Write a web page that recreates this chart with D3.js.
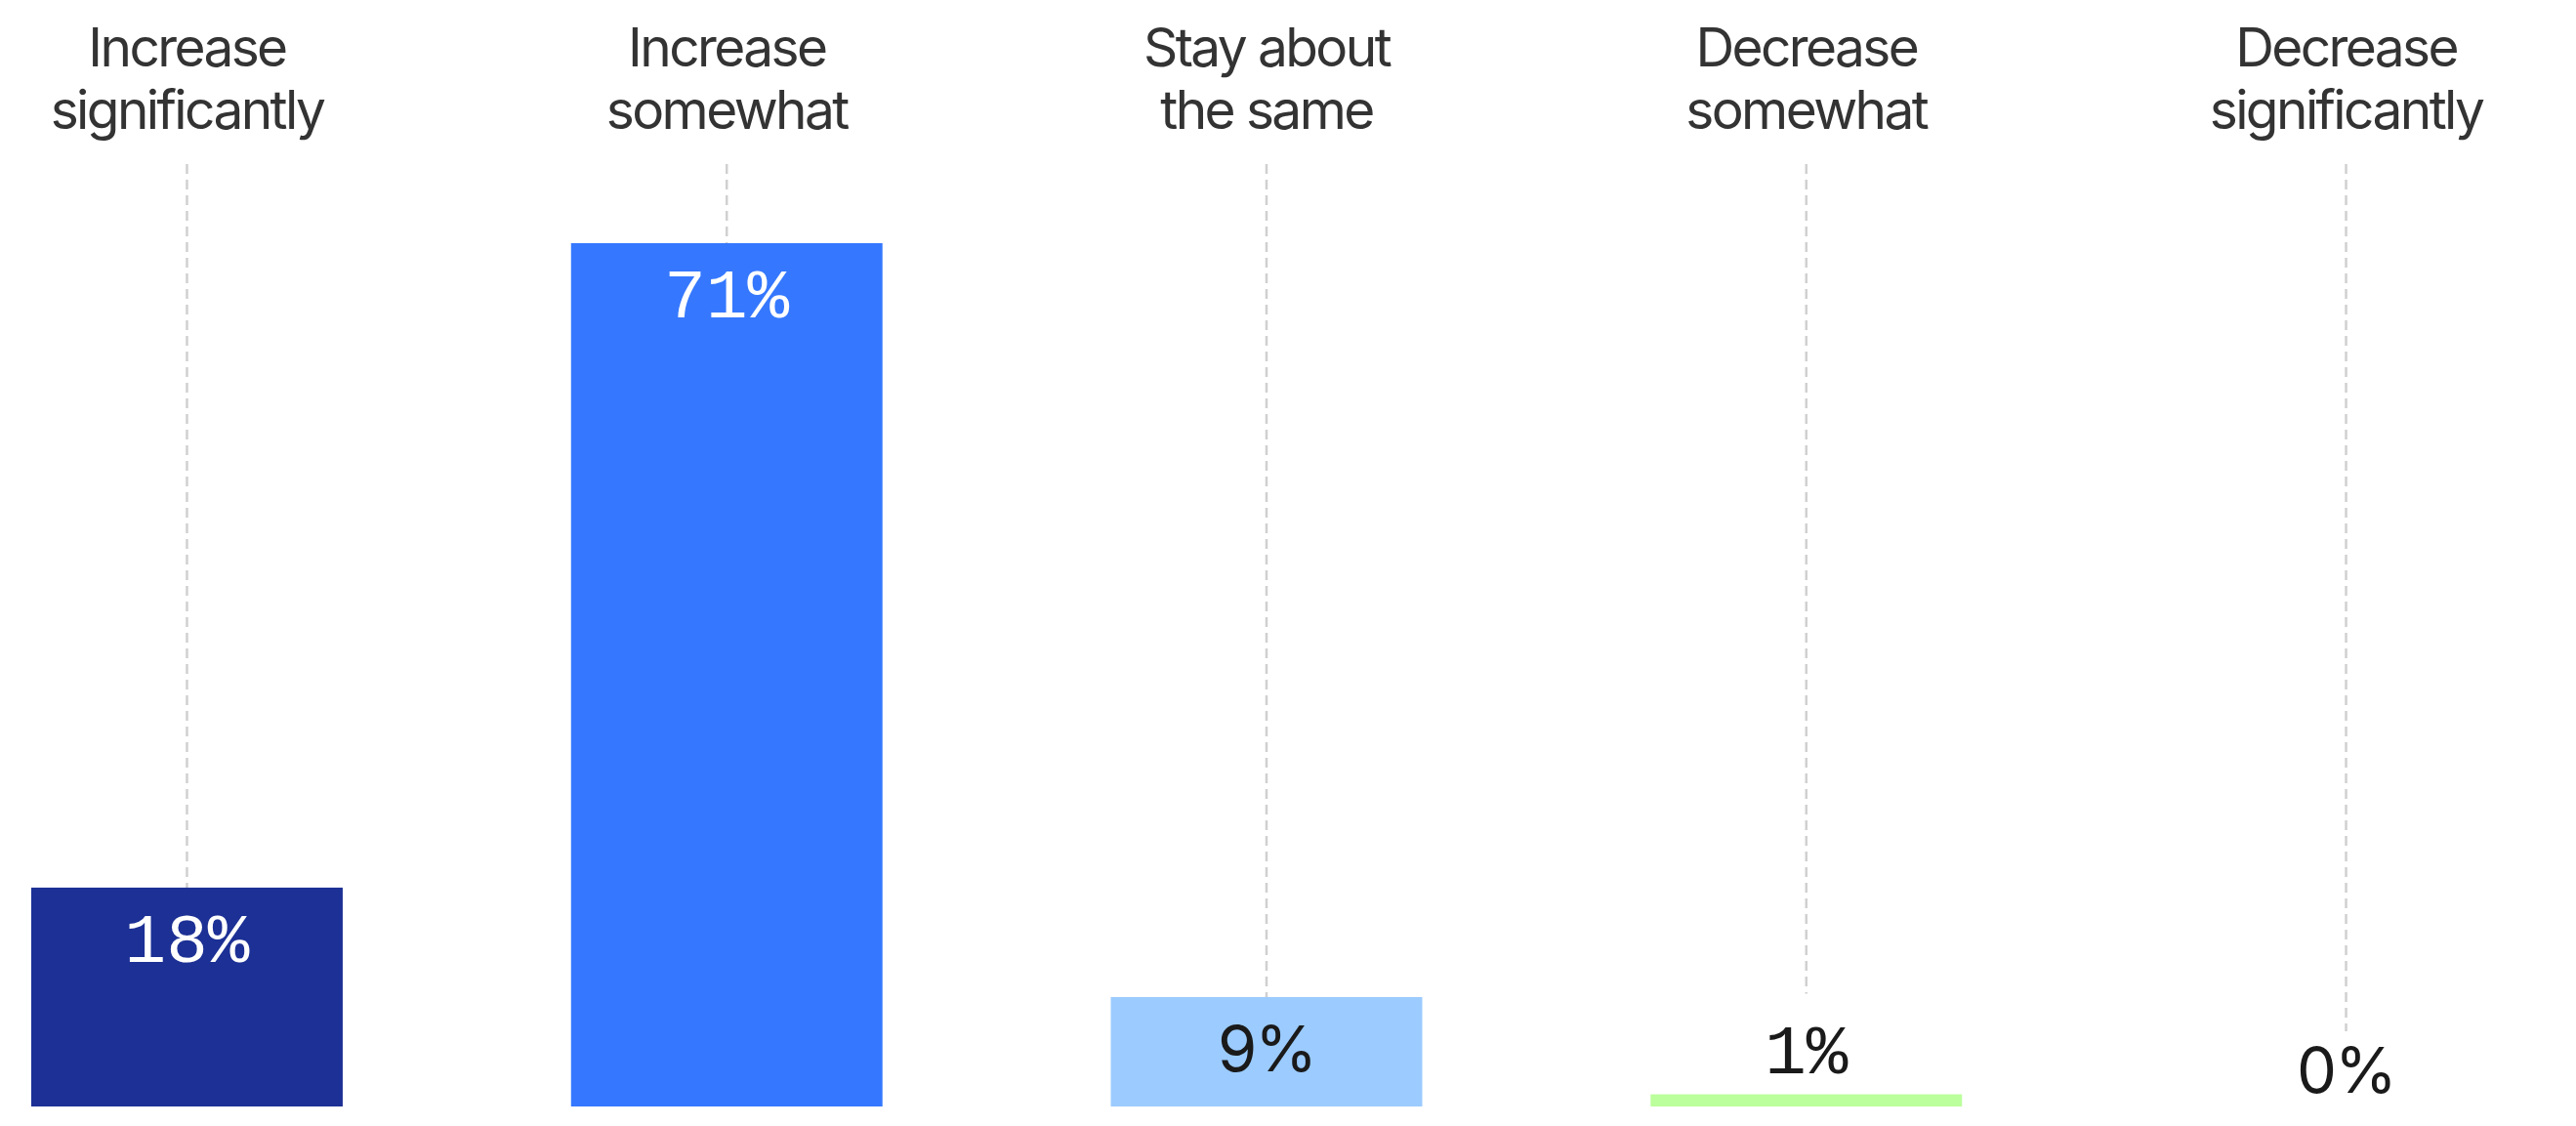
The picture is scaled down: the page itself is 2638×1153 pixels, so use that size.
<!DOCTYPE html>
<html>
<head>
<meta charset="utf-8">
<script src="https://cdn.jsdelivr.net/npm/d3@7"></script>
<style>
  html, body { margin: 0; padding: 0; background: #ffffff; }
  svg { display: block; }
</style>
</head>
<body>
<svg id="chart" width="2638" height="1153"></svg>
<script>
// ---- data ----
const categories = ["Increase significantly", "Increase somewhat", "Stay about the same", "Decrease somewhat", "Decrease significantly"];
const categoryLines = [["Increase", "significantly"], ["Increase", "somewhat"], ["Stay about", "the same"], ["Decrease", "somewhat"], ["Decrease", "significantly"]];
const values = [18, 71, 9, 1, 0];
const valueLabels = ["18%", "71%", "9%", "1%", "0%"];

// ---- styles ----
const barColors = ["#1c3095", "#3578ff", "#9bcbff", "#bbff9c", "#cccccc"];
const insideTextColors = ["#ffffff", "#ffffff", "#1a1a1a", "#1a1a1a", "#1a1a1a"];
const monoFont = "'Liberation Mono', 'DejaVu Sans Mono', monospace";
const sansFont = "Inter, 'Noto Sans', sans-serif";
const labelFonts = [monoFont, monoFont, sansFont, monoFont, sansFont];

const svg = d3.select("#chart");

const x = d3.scaleBand()
  .domain(categories)
  .range([32, 2562])
  .paddingInner(0.423)
  .paddingOuter(0);

const y = d3.scaleLinear()
  .domain([0, 71])
  .range([1133, 249]);

const insideThreshold = 5;

// category labels
const catG = svg.append("g");
categories.forEach((c, i) => {
  const cx = x(c) + x.bandwidth() / 2;
  const t = catG.append("text")
    .attr("x", cx)
    .attr("y", 68)
    .attr("text-anchor", "middle")
    .attr("fill", "#333333")
    .style("font-family", sansFont)
    .style("font-size", "55px")
    .style("letter-spacing", "-2.6px");
  categoryLines[i].forEach((ln, j) => {
    t.append("tspan")
      .attr("x", cx)
      .attr("dy", j === 0 ? 0 : 63.5)
      .text(ln);
  });
});

// bars
svg.append("g").selectAll("rect")
  .data(values)
  .join("rect")
  .attr("x", (d, i) => x(categories[i]))
  .attr("y", d => y(d))
  .attr("width", x.bandwidth())
  .attr("height", d => y(0) - y(d))
  .attr("fill", (d, i) => barColors[i]);

// value labels
const lblG = svg.append("g");
const labelNodes = values.map((v, i) => {
  const inside = v >= insideThreshold;
  const mono = labelFonts[i] === monoFont;
  const cx = x(categories[i]) + x.bandwidth() / 2;
  const yy = inside ? y(v) + 76 : y(v) - (mono ? 22 : 14);
  return lblG.append("text")
    .attr("x", cx)
    .attr("y", yy)
    .attr("text-anchor", "middle")
    .attr("fill", inside ? insideTextColors[i] : "#1a1a1a")
    .style("font-family", labelFonts[i])
    .style("font-size", mono ? "71px" : "65px")
    .style("letter-spacing", mono ? "0px" : "-2px")
    .text(valueLabels[i]);
});

// dashed guide lines
const guideG = svg.insert("g", ":first-child");
values.forEach((v, i) => {
  const inside = v >= insideThreshold;
  const cx = x(categories[i]) + x.bandwidth() / 2;
  let yEnd;
  if (inside) {
    yEnd = y(v);
  } else {
    const bb = labelNodes[i].node().getBBox();
    yEnd = bb.y - (labelFonts[i] === monoFont ? 22 : 0);
  }
  guideG.append("line")
    .attr("x1", cx).attr("x2", cx)
    .attr("y1", 168).attr("y2", yEnd)
    .attr("stroke", "#d0d0d0")
    .attr("stroke-width", 2.5)
    .attr("stroke-dasharray", "10,6");
});
</script>
</body>
</html>
